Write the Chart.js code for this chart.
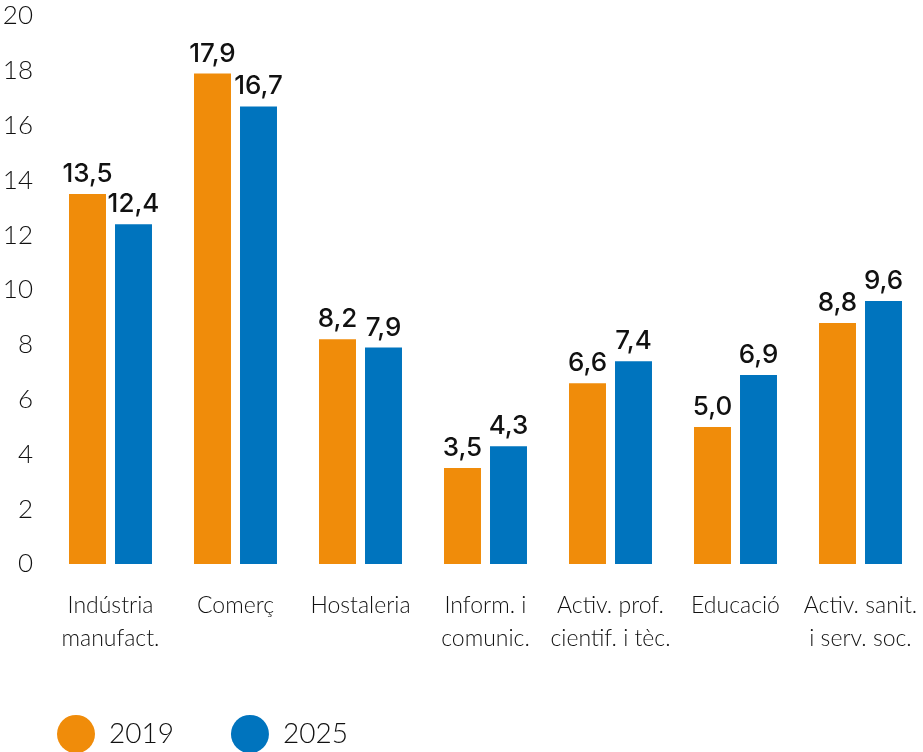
<!DOCTYPE html>
<html>
<head>
<meta charset="utf-8">
<script src="https://cdn.jsdelivr.net/npm/chart.js@4"></script>
<style>
  html, body { margin: 0; padding: 0; background: #fff; }
  #wrap { width: 923px; height: 752px; position: relative; }
</style>
</head>
<body>
<div id="wrap"><canvas id="grafic"></canvas></div>
<script>
// Dades
const categories = [
    ['Indústria', 'manufact.'],
    'Comerç',
    'Hostaleria',
    ['Inform. i', 'comunic.'],
    ['Activ. prof.', 'cientif. i tèc.'],
    'Educació',
    ['Activ. sanit.', 'i serv. soc.']
];
const valors2019 = [13.5, 17.9, 8.2, 3.5, 6.6, 5.0, 8.8];
const valors2025 = [12.4, 16.7, 7.9, 4.3, 7.4, 6.9, 9.6];
const anys = ['2019', '2025'];
const ticksY = [0, 2, 4, 6, 8, 10, 12, 14, 16, 18, 20];

const taronja = '#F08C0A';
const blau = '#0074BE';
const fontLleu = 'Lato, "Open Sans", sans-serif';
const fontEtiq = 'Inter, "Open Sans", sans-serif';

// etiquetes de valor damunt de cada barra
const etiquetes = {
    id: 'etiquetes',
    afterDatasetsDraw(chart) {
        const ctx = chart.ctx;
        ctx.save();
        ctx.font = '500 26px ' + fontEtiq;
        ctx.fillStyle = '#111';
        ctx.textAlign = 'center';
        ctx.textBaseline = 'alphabetic';
        chart.data.datasets.forEach(function (ds, i) {
            chart.getDatasetMeta(i).data.forEach(function (bar, j) {
                const txt = ds.data[j].toFixed(1).replace('.', ',');
                ctx.fillText(txt, bar.x, bar.y - 12);
            });
        });
        ctx.restore();
    }
};

const data = {
    labels: categories,
    datasets: [
        { label: anys[0], data: valors2019, backgroundColor: taronja },
        { label: anys[1], data: valors2025, backgroundColor: blau }
    ]
};

const config = {
    type: 'bar',
    data: data,
    plugins: [etiquetes],
    options: {
        responsive: true,
        maintainAspectRatio: false,
        animation: false,
        layout: { padding: { top: 16, right: 0, left: 0, bottom: -6 } },
        datasets: {
            bar: { categoryPercentage: 0.736, barPercentage: 0.804 }
        },
        plugins: {
            tooltip: { enabled: false },
            legend: {
                position: 'bottom',
                align: 'start',
                labels: {
                    usePointStyle: true,
                    pointStyle: 'circle',
                    pointStyleWidth: 38,
                    boxHeight: 27,
                    padding: 57,
                    color: '#111',
                    font: { family: fontLleu, size: 28, weight: 300, lineHeight: 1.07 }
                }
            }
        },
        scales: {
            x: {
                grid: { display: false },
                border: { display: false },
                afterFit: function (scale) {
                    scale.height = 99;
                    scale.paddingLeft = 0;
                    scale.paddingRight = 0;
                },
                ticks: {
                    color: '#111',
                    padding: 17,
                    maxRotation: 0,
                    autoSkip: false,
                    font: { family: fontLleu, size: 23, weight: 300, lineHeight: 1.45 }
                }
            },
            y: {
                min: 0,
                max: 20,
                grid: { display: false },
                border: { display: false },
                afterFit: function (scale) {
                    scale.width = 48;
                    scale.paddingTop = 0;
                    scale.paddingBottom = 0;
                },
                afterBuildTicks: function (scale) {
                    scale.ticks = ticksY.map(function (v) { return { value: v }; });
                },
                ticks: {
                    color: '#111',
                    padding: 7,
                    font: { family: fontLleu, size: 26, weight: 300 }
                }
            }
        }
    }
};

const grafic = new Chart(document.getElementById('grafic'), config);
</script>
</body>
</html>
